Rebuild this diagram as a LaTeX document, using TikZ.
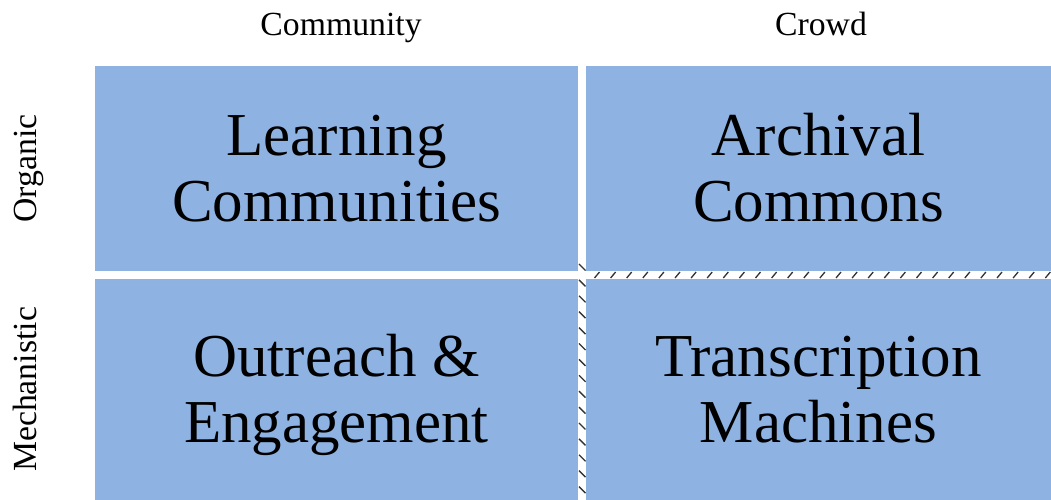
\documentclass[tikz,border=0pt]{standalone}
\usepackage{fontspec}
\setmainfont{Liberation Serif}
\definecolor{cellblue}{HTML}{8EB2E2}
\tikzset{
  cell/.style={fill=cellblue, inner sep=0pt, align=center,
    font=\fontsize{34.7}{37.6}\selectfont,
    text height=60.3pt, text depth=0pt},
  heading/.style={anchor=base, font=\fontsize{19.2}{22}\selectfont},
  hatch/.style={draw=black!80, line width=0.75pt}
}
\begin{document}
\begin{tikzpicture}
  \useasboundingbox (0,0) rectangle (21.02,10);
  % the four quadrants
  \node[cell, minimum width=9.66cm, minimum height=4.10cm] (learn) at (6.73,6.63) {Learning\\Communities};
  \node[cell, minimum width=9.30cm, minimum height=4.10cm] (archive) at (16.37,6.63) {Archival\\Commons};
  \node[cell, minimum width=9.66cm, minimum height=4.42cm] (outreach) at (6.73,2.21) {Outreach \&\\Engagement};
  \node[cell, minimum width=9.30cm, minimum height=4.42cm] (machine) at (16.37,2.21) {Transcription\\Machines};
  % column and row headings
  \node[heading] (community) at (6.82,9.28) {Community};
  \node[heading] (crowd) at (16.42,9.28) {Crowd};
  \node[heading, rotate=90] (organic) at (0.74,6.63) {Organic};
  \node[heading, rotate=90] (mechanistic) at (0.74,2.21) {Mechanistic};
  % hatching in the gaps round the crowd side
  \foreach \i in {0,...,28}
    \draw[hatch] ({11.89+0.322*\i},4.44) -- ++(0.1,0.12);
  \foreach \j in {0,...,14}
    \draw[hatch] (11.58,{4.72-0.318*\j}) -- ++(0.13,-0.13);
\end{tikzpicture}
\end{document}
